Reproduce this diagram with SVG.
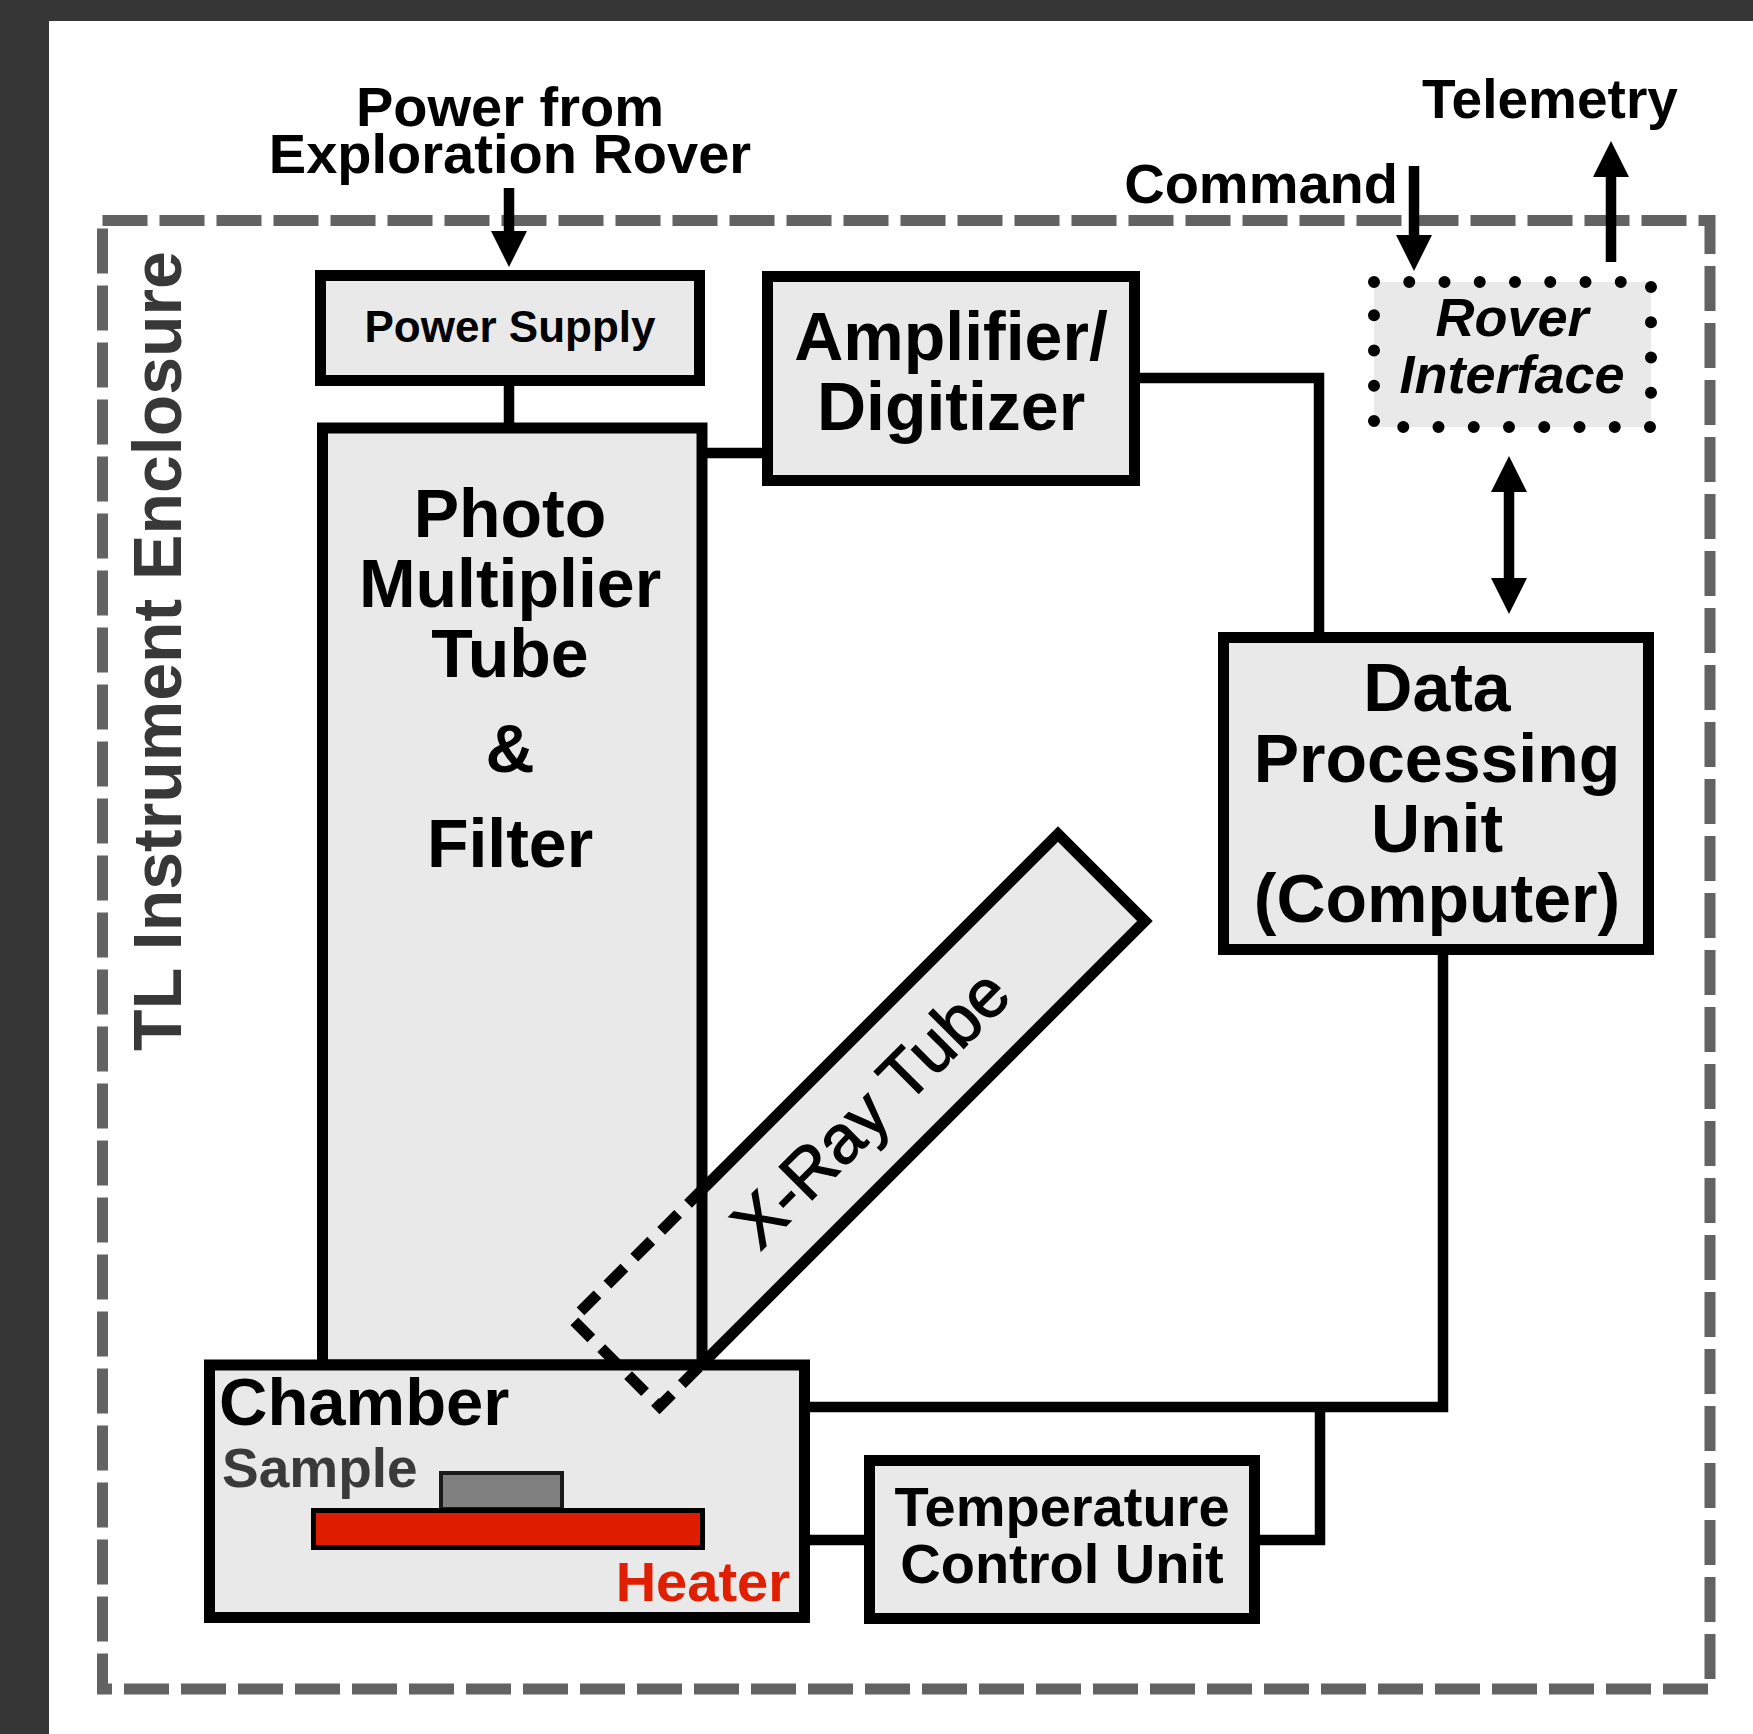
<svg xmlns="http://www.w3.org/2000/svg" width="1753" height="1734" viewBox="0 0 1753 1734">
<defs>
<style>
.box{fill:#e9e9e9;stroke:#000;stroke-width:11;stroke-linejoin:miter}
.wire{fill:none;stroke:#000;stroke-width:10.5;stroke-linejoin:miter;stroke-linecap:butt}
.t{font-family:"Liberation Sans",Arial,Helvetica,sans-serif;font-weight:bold;fill:#000}
.c{text-anchor:middle}
</style>
<marker id="ah" markerUnits="userSpaceOnUse" markerWidth="36" markerHeight="36" viewBox="0 0 34 34" refX="1" refY="17" orient="auto-start-reverse">
<path d="M0,0 L34,17 L0,34 z" fill="#000"/>
</marker>
</defs>
<rect width="1753" height="1734" fill="#363636"/>
<rect x="49" y="21" width="1704" height="1713" fill="#ffffff"/>

<g id="enclosure">
<rect x="102.5" y="220.5" width="1607.5" height="1468.5" fill="none" stroke="#626262" stroke-width="11" stroke-dasharray="45 12"/>
<text class="t c" transform="translate(181,651) rotate(-90)" font-size="68" style="fill:#383838">TL Instrument Enclosure</text>
</g>

<g id="xray-tube-fill">
<polygon points="1058,834 1145,921 659.5,1406.5 572.5,1319.5" fill="#e9e9e9"/>
</g>

<g id="power-supply">
<rect class="box" x="320.5" y="275.5" width="379" height="105"/>
<text class="t c" x="510" y="342" font-size="44">Power Supply</text>
</g>

<g id="pmt">
<rect class="box" x="322.5" y="428" width="379.5" height="937"/>
<text class="t c" x="510" y="537" font-size="68">Photo</text>
<text class="t c" x="510" y="607" font-size="68">Multiplier</text>
<text class="t c" x="510" y="677" font-size="68">Tube</text>
<text class="t c" x="510" y="772" font-size="68">&amp;</text>
<text class="t c" x="510" y="867" font-size="68">Filter</text>
</g>

<g id="amplifier">
<rect class="box" x="767.5" y="276.5" width="367" height="204"/>
<text class="t c" x="951" y="360" font-size="68">Amplifier/</text>
<text class="t c" x="951" y="430" font-size="68">Digitizer</text>
</g>

<g id="rover-interface">
<rect x="1374" y="282" width="277" height="145" fill="#e9e9e9"/>
<rect x="1374" y="282" width="277" height="145" fill="none" stroke="#000" stroke-width="12" stroke-linecap="round" stroke-dasharray="0 35.25"/>
<text class="t c" x="1512" y="336" font-size="54" font-style="italic">Rover</text>
<text class="t c" x="1512" y="393" font-size="54" font-style="italic">Interface</text>
</g>

<g id="dpu">
<rect class="box" x="1223.5" y="637.5" width="425" height="312"/>
<text class="t c" x="1437" y="711" font-size="68">Data</text>
<text class="t c" x="1437" y="782" font-size="68">Processing</text>
<text class="t c" x="1437" y="852" font-size="68">Unit</text>
<text class="t c" x="1437" y="922" font-size="68">(Computer)</text>
</g>

<g id="chamber">
<rect class="box" x="209.5" y="1365" width="595" height="252.5"/>
<text class="t" x="219" y="1425" font-size="67">Chamber</text>
<text class="t" x="222" y="1487" font-size="55" style="fill:#3a3a3a">Sample</text>
<rect x="441" y="1473" width="121" height="36" fill="#808080" stroke="#1a1a1a" stroke-width="4"/>
<rect x="313.5" y="1510.5" width="389" height="37" fill="#de1d00" stroke="#000" stroke-width="5"/>
<text class="t" x="790" y="1601" font-size="56" text-anchor="end" style="fill:#e01e00">Heater</text>
</g>

<g id="xray-tube">
<polyline points="705,1187 1058,834 1145,921 705,1361" fill="none" stroke="#000" stroke-width="11" stroke-linejoin="miter"/>
<polyline points="705,1187 572.5,1319.5 659.5,1406.5 705,1361" fill="none" stroke="#000" stroke-width="11" stroke-dasharray="24 14" stroke-linejoin="miter"/>
<text x="887" y="1125" transform="rotate(-45 887 1125)" font-family="Liberation Sans, Arial, sans-serif" font-size="68" text-anchor="middle" fill="#000" stroke="#000" stroke-width="1.3">X-Ray Tube</text>
</g>

<g id="tcu">
<rect class="box" x="869.5" y="1460.5" width="385" height="158"/>
<text class="t c" x="1062" y="1526" font-size="56">Temperature</text>
<text class="t c" x="1062" y="1583" font-size="56">Control Unit</text>
</g>

<g id="labels">
<text class="t c" x="510" y="126" font-size="56">Power from</text>
<text class="t c" x="510" y="173" font-size="56">Exploration Rover</text>
<text class="t" x="1398" y="203" font-size="56" text-anchor="end">Command</text>
<text class="t c" x="1550" y="118" font-size="55">Telemetry</text>
</g>

<g id="connectors">
<line class="wire" x1="509" y1="386" x2="509" y2="424"/>
<line class="wire" x1="707" y1="453" x2="763" y2="453"/>
<polyline class="wire" points="1139,378 1319,378 1319,633"/>
<polyline class="wire" points="1443,954 1443,1407 809,1407"/>
<polyline class="wire" points="1320,1407 1320,1540 1259,1540"/>
<line class="wire" x1="809" y1="1540" x2="865" y2="1540"/>
<line class="wire" x1="509" y1="188" x2="509" y2="232" marker-end="url(#ah)"/>
<line class="wire" x1="1414" y1="166" x2="1414" y2="236" marker-end="url(#ah)"/>
<line class="wire" x1="1611" y1="262" x2="1611" y2="176" marker-end="url(#ah)"/>
<line class="wire" x1="1509" y1="491" x2="1509" y2="579" marker-start="url(#ah)" marker-end="url(#ah)"/>
</g>
</svg>
